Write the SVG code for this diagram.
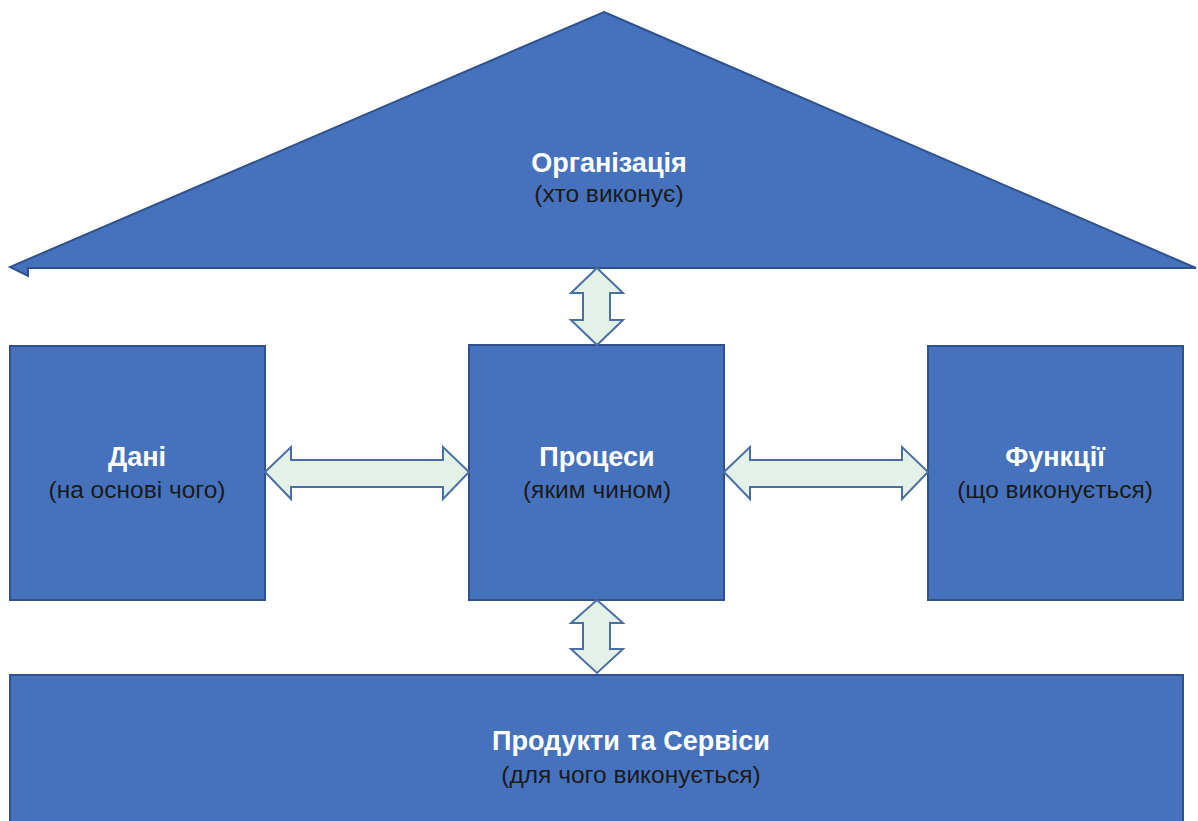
<svg xmlns="http://www.w3.org/2000/svg" width="1198" height="821" viewBox="0 0 1198 821">
<style>
.node{fill:#4672BD;stroke:#2F528F;stroke-width:2}
.arr{fill:#E3F1E9;stroke:#4A6FA5;stroke-width:2;stroke-linejoin:miter}
.t{font-family:"Liberation Sans",Arial,sans-serif;font-weight:bold;font-size:27px;fill:#ffffff;text-anchor:middle}
.s{font-family:"Liberation Sans",Arial,sans-serif;font-size:24.5px;fill:#1a1a1a;text-anchor:middle}
</style>
<rect width="1198" height="821" fill="#ffffff"/>
<g id="organization">
<polygon class="node" points="604,12 1196,268 28,268 28,276 10,267"/>
<text class="t" x="609" y="172">Організація</text>
<text class="s" x="609" y="202">(хто виконує)</text>
</g>
<g id="data">
<rect class="node" x="10" y="346" width="255" height="254"/>
<text class="t" x="137" y="466">Дані</text>
<text class="s" x="137" y="498">(на основі чого)</text>
</g>
<g id="processes">
<rect class="node" x="469" y="345" width="255" height="255"/>
<text class="t" x="597" y="466">Процеси</text>
<text class="s" x="597" y="498">(яким чином)</text>
</g>
<g id="functions">
<rect class="node" x="928" y="346" width="255" height="254"/>
<text class="t" x="1055" y="466">Функції</text>
<text class="s" x="1055" y="498">(що виконується)</text>
</g>
<g id="products">
<rect class="node" x="10" y="675" width="1173" height="150"/>
<text class="t" x="631" y="750">Продукти та Сервіси</text>
<text class="s" x="631" y="783">(для чого виконується)</text>
</g>
<g id="connectors">
<polygon class="arr" points="597,268 623,293 610,293 610,320 623,320 597,345 571,320 583,320 583,293 571,293"/>
<polygon class="arr" points="597,600 623,623 610,623 610,649 623,649 597,673 571,649 583,649 583,623 571,623"/>
<polygon class="arr" points="265,472 291,447 291,460 443,460 443,447 469,472 443,499 443,487 291,487 291,499"/>
<polygon class="arr" points="724,472 750,447 750,460 902,460 902,447 928,472 902,499 902,487 750,487 750,499"/>
</g>
</svg>
